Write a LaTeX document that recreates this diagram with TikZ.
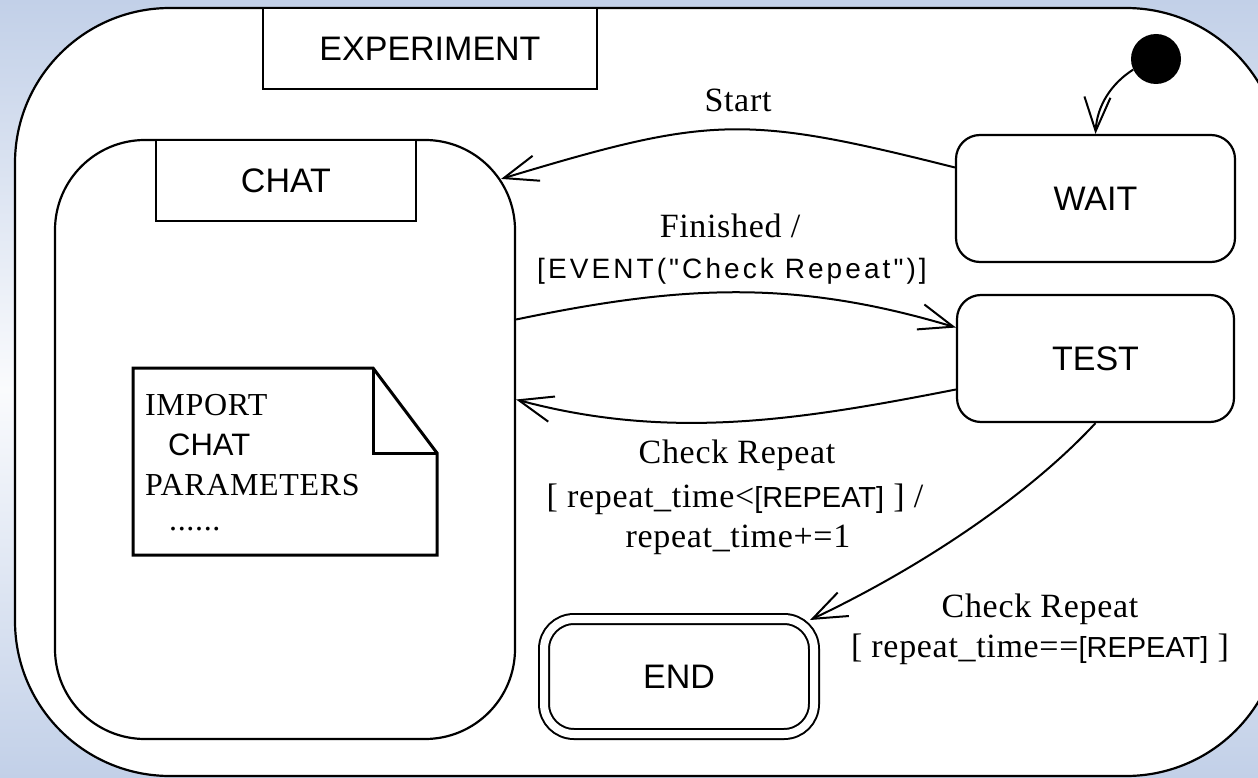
\documentclass[tikz,border=0pt]{standalone}
\usepackage{fontspec}
\setmainfont{Liberation Serif}
\newfontfamily\sansf{Liberation Sans}
\newfontfamily\sansspaced{Liberation Sans}[LetterSpace=11]
\newfontfamily\serifspaced{Liberation Serif}[LetterSpace=2]
\usetikzlibrary{arrows.meta, calc}

\definecolor{bgedge}{RGB}{194,208,232}
\definecolor{bgmid}{RGB}{250,251,253}

% font sizes
\newcommand\statefont{\sansf\fontsize{34}{40}\selectfont}
\newcommand\serfont{\serifspaced\fontsize{34}{40}\selectfont}
\newcommand\notefont{\serifspaced\fontsize{32}{38}\selectfont}
\newcommand\ar[1]{{\sansf\fontsize{29}{34}\selectfont #1}}

\tikzset{
  outline/.style={draw=black, line width=2.2pt, fill=white},
  statebox/.style={outline, rounded corners=24pt, font=\statefont, inner sep=0pt},
  tabbox/.style={draw=black, line width=2pt, fill=white, font=\statefont, inner sep=0pt},
  conn/.style={line width=2pt, -{Straight Barb[length=34pt, width=26pt, line width=2pt]}},
  lbl/.style={font=\serfont, inner sep=0pt, anchor=base},
  notetext/.style={font=\notefont, inner sep=0pt, anchor=base west},
  notepaper/.style={line width=3pt, line join=miter},
}

\begin{document}
\begin{tikzpicture}[x=1pt, y=-1pt]
  \useasboundingbox (0,0) rectangle (1258,778);
  \clip (0,0) rectangle (1258,778);
  % background: blue at top and bottom, almost white in the middle
  \shade[top color=bgedge, bottom color=bgmid] (0,0) rectangle (1258,390);
  \shade[top color=bgmid, bottom color=bgedge] (0,389) rectangle (1258,778);

  % composite state EXPERIMENT (its right side runs past the page edge)
  \node[outline, rounded corners=155pt, minimum width=1266pt, minimum height=768pt] (exp) at (648,392) {};
  \node[tabbox, minimum width=334pt, minimum height=81pt] (exptab) at (430,48.5) {EXPERIMENT};

  % composite state CHAT
  \node[outline, rounded corners=90pt, minimum width=460pt, minimum height=599pt] (chat) at (285,439.5) {};
  \node[tabbox, minimum width=260pt, minimum height=81pt] (chattab) at (286,180.5) {CHAT};

  % note with folded corner
  \draw[notepaper, fill=white] (133,368) -- (373,368) -- (437,453) -- (437,555) -- (133,555) -- cycle;
  \draw[notepaper] (373,368) -- (373,453) -- (437,453);
  \node[notetext] (n1) at (145,415) {IMPORT};
  \node[anchor=base west, inner sep=0pt, font=\sansf\fontsize{31}{36}\selectfont] (n2) at (168,455) {CHAT};
  \node[notetext] (n3) at (145,495) {PARAMETERS};
  \node[notetext] (n4) at (169,530) {......};

  % simple states
  \node[statebox, minimum width=279pt, minimum height=127pt] (wait) at (1095.5,198.5) {WAIT};
  \node[statebox, minimum width=277pt, minimum height=127pt] (test) at (1095.5,358.5) {TEST};
  \node[statebox, double, double distance=8pt, line width=2pt, rounded corners=30pt,
        minimum width=270pt, minimum height=115pt] (done) at (679,676.5) {END};

  % initial pseudo-state
  \node[circle, fill=black, minimum size=50pt, inner sep=0pt] (init) at (1156,59) {};

  % transitions
  \draw[conn] (init.205) .. controls (1112,83) and (1097,105) .. (wait.north);
  \draw[conn] ([yshift=31pt]wait.west) .. controls (743,114) and (710,116) .. ([xshift=-15pt,yshift=-40pt]chat.north east);
  \draw[conn] ([yshift=120pt]chat.east) .. controls (682,285) and (794,279) .. ([yshift=31pt]test.west);
  \draw[conn] ([yshift=-31pt]test.west) .. controls (800,420) and (670,441) .. ([yshift=40pt]chat.east);
  \draw[conn] (test.south) .. controls (1028,496) and (920,568) .. ([xshift=-5pt,yshift=-2pt]done.north east);

  % transition labels
  \node[lbl] (l1) at (738,112) {Start};
  \node[lbl] (l2) at (730,237) {Finished /};
  \node[lbl, font=\sansspaced\fontsize{28}{33}\selectfont] (l3) at (732,278) {[EVENT("Check Repeat")]};
  \node[lbl] (l4) at (737,463) {Check Repeat};
  \node[lbl] (l5) at (735,507) {[ repeat\_time<\ar{[REPEAT]} ] /};
  \node[lbl] (l6) at (738,547) {repeat\_time+=1};
  \node[lbl] (l7) at (1040,617) {Check Repeat};
  \node[lbl] (l8) at (1040,657) {[ repeat\_time==\ar{[REPEAT]} ]};
\end{tikzpicture}
\end{document}
